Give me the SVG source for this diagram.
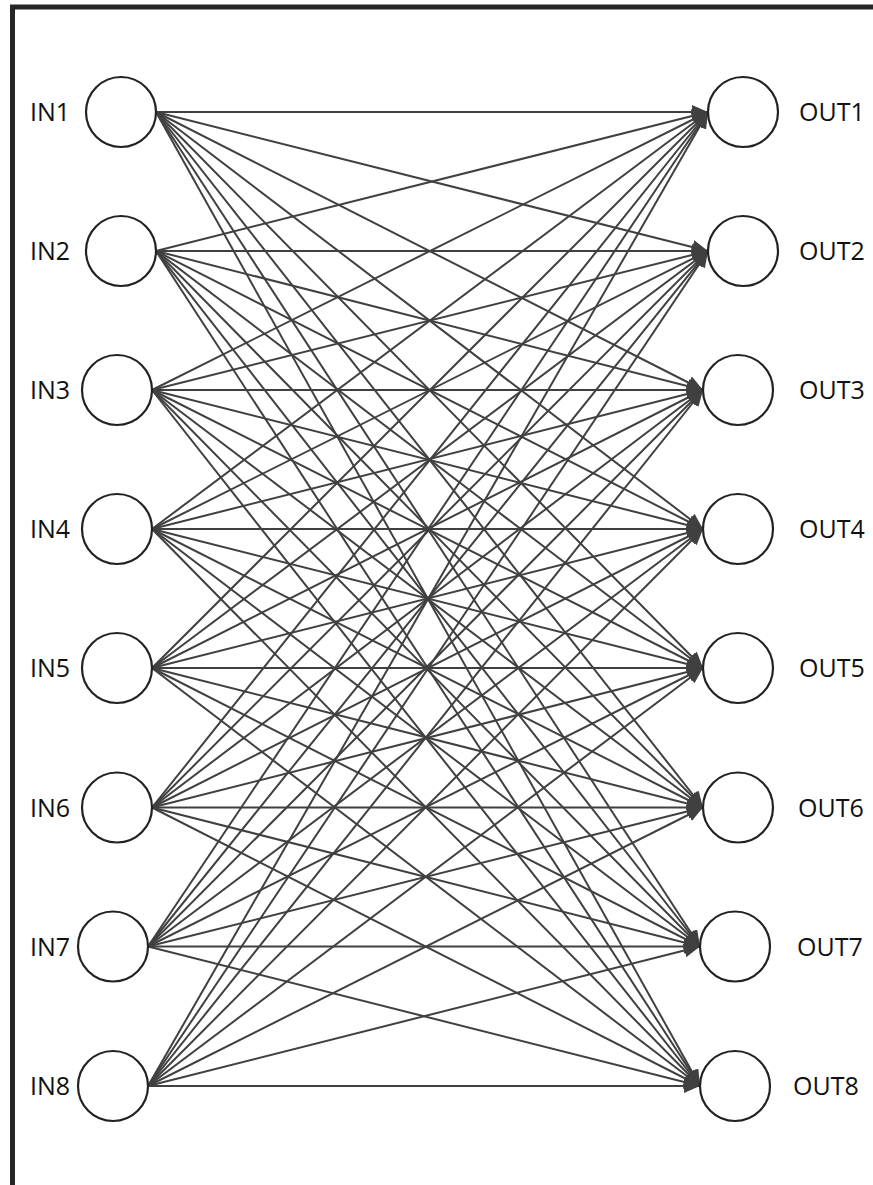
<svg xmlns="http://www.w3.org/2000/svg" width="873" height="1185" viewBox="0 0 873 1185">
<style>
.n{fill:#fff;stroke:#222;stroke-width:2.2}
.t{font-family:"Open Sans","Liberation Sans",sans-serif;font-size:25px;fill:#111}
.c line{stroke:#404040;stroke-width:2;marker-end:url(#ah)}
.b{stroke:#262626;stroke-width:5;fill:none}
</style>
<defs>
<marker id="ah" markerUnits="userSpaceOnUse" markerWidth="17" markerHeight="14" refX="16" refY="7" orient="auto">
<path d="M0,0 L16,7 L0,14 z" fill="#404040"/>
</marker>
</defs>
<rect width="873" height="1185" fill="#fff"/>
<path class="b" d="M12.5,1185 V7 H873"/>
<g class="c" id="connectors">
<line x1="156" y1="112" x2="708" y2="112"/>
<line x1="156" y1="112" x2="708" y2="251"/>
<line x1="156" y1="112" x2="703" y2="390"/>
<line x1="156" y1="112" x2="703" y2="529"/>
<line x1="156" y1="112" x2="703" y2="668"/>
<line x1="156" y1="112" x2="703" y2="807.5"/>
<line x1="156" y1="112" x2="700" y2="946.5"/>
<line x1="156" y1="112" x2="700" y2="1086"/>
<line x1="156" y1="251" x2="708" y2="112"/>
<line x1="156" y1="251" x2="708" y2="251"/>
<line x1="156" y1="251" x2="703" y2="390"/>
<line x1="156" y1="251" x2="703" y2="529"/>
<line x1="156" y1="251" x2="703" y2="668"/>
<line x1="156" y1="251" x2="703" y2="807.5"/>
<line x1="156" y1="251" x2="700" y2="946.5"/>
<line x1="156" y1="251" x2="700" y2="1086"/>
<line x1="152" y1="390" x2="708" y2="112"/>
<line x1="152" y1="390" x2="708" y2="251"/>
<line x1="152" y1="390" x2="703" y2="390"/>
<line x1="152" y1="390" x2="703" y2="529"/>
<line x1="152" y1="390" x2="703" y2="668"/>
<line x1="152" y1="390" x2="703" y2="807.5"/>
<line x1="152" y1="390" x2="700" y2="946.5"/>
<line x1="152" y1="390" x2="700" y2="1086"/>
<line x1="152" y1="529" x2="708" y2="112"/>
<line x1="152" y1="529" x2="708" y2="251"/>
<line x1="152" y1="529" x2="703" y2="390"/>
<line x1="152" y1="529" x2="703" y2="529"/>
<line x1="152" y1="529" x2="703" y2="668"/>
<line x1="152" y1="529" x2="703" y2="807.5"/>
<line x1="152" y1="529" x2="700" y2="946.5"/>
<line x1="152" y1="529" x2="700" y2="1086"/>
<line x1="152" y1="668" x2="708" y2="112"/>
<line x1="152" y1="668" x2="708" y2="251"/>
<line x1="152" y1="668" x2="703" y2="390"/>
<line x1="152" y1="668" x2="703" y2="529"/>
<line x1="152" y1="668" x2="703" y2="668"/>
<line x1="152" y1="668" x2="703" y2="807.5"/>
<line x1="152" y1="668" x2="700" y2="946.5"/>
<line x1="152" y1="668" x2="700" y2="1086"/>
<line x1="152" y1="807.5" x2="708" y2="112"/>
<line x1="152" y1="807.5" x2="708" y2="251"/>
<line x1="152" y1="807.5" x2="703" y2="390"/>
<line x1="152" y1="807.5" x2="703" y2="529"/>
<line x1="152" y1="807.5" x2="703" y2="668"/>
<line x1="152" y1="807.5" x2="703" y2="807.5"/>
<line x1="152" y1="807.5" x2="700" y2="946.5"/>
<line x1="152" y1="807.5" x2="700" y2="1086"/>
<line x1="148" y1="946.5" x2="708" y2="112"/>
<line x1="148" y1="946.5" x2="708" y2="251"/>
<line x1="148" y1="946.5" x2="703" y2="390"/>
<line x1="148" y1="946.5" x2="703" y2="529"/>
<line x1="148" y1="946.5" x2="703" y2="668"/>
<line x1="148" y1="946.5" x2="703" y2="807.5"/>
<line x1="148" y1="946.5" x2="700" y2="946.5"/>
<line x1="148" y1="946.5" x2="700" y2="1086"/>
<line x1="148" y1="1086" x2="708" y2="112"/>
<line x1="148" y1="1086" x2="708" y2="251"/>
<line x1="148" y1="1086" x2="703" y2="390"/>
<line x1="148" y1="1086" x2="703" y2="529"/>
<line x1="148" y1="1086" x2="703" y2="668"/>
<line x1="148" y1="1086" x2="703" y2="807.5"/>
<line x1="148" y1="1086" x2="700" y2="946.5"/>
<line x1="148" y1="1086" x2="700" y2="1086"/>
</g>
<g id="in1"><circle class="n" cx="121" cy="112" r="35"/><text class="t" x="30" y="121">IN1</text></g>
<g id="in2"><circle class="n" cx="121" cy="251" r="35"/><text class="t" x="30" y="260">IN2</text></g>
<g id="in3"><circle class="n" cx="117" cy="390" r="35"/><text class="t" x="30" y="399">IN3</text></g>
<g id="in4"><circle class="n" cx="117" cy="529" r="35"/><text class="t" x="30" y="538">IN4</text></g>
<g id="in5"><circle class="n" cx="117" cy="668" r="35"/><text class="t" x="30" y="677">IN5</text></g>
<g id="in6"><circle class="n" cx="117" cy="807.5" r="35"/><text class="t" x="30" y="816.5">IN6</text></g>
<g id="in7"><circle class="n" cx="113" cy="946.5" r="35"/><text class="t" x="30" y="955.5">IN7</text></g>
<g id="in8"><circle class="n" cx="113" cy="1086" r="35"/><text class="t" x="30" y="1095">IN8</text></g>
<g id="out1"><circle class="n" cx="743" cy="112" r="35"/><text class="t" x="799" y="121">OUT1</text></g>
<g id="out2"><circle class="n" cx="743" cy="251" r="35"/><text class="t" x="799" y="260">OUT2</text></g>
<g id="out3"><circle class="n" cx="738" cy="390" r="35"/><text class="t" x="799" y="399">OUT3</text></g>
<g id="out4"><circle class="n" cx="738" cy="529" r="35"/><text class="t" x="799" y="538">OUT4</text></g>
<g id="out5"><circle class="n" cx="738" cy="668" r="35"/><text class="t" x="799" y="677">OUT5</text></g>
<g id="out6"><circle class="n" cx="738" cy="807.5" r="35"/><text class="t" x="798" y="816.5">OUT6</text></g>
<g id="out7"><circle class="n" cx="735" cy="946.5" r="35"/><text class="t" x="797" y="955.5">OUT7</text></g>
<g id="out8"><circle class="n" cx="735" cy="1086" r="35"/><text class="t" x="793" y="1095">OUT8</text></g>
</svg>
